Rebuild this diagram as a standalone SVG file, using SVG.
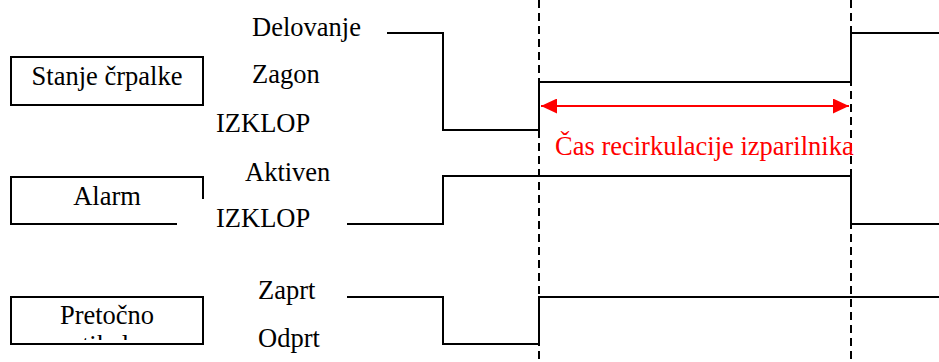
<svg xmlns="http://www.w3.org/2000/svg" width="939" height="362" viewBox="0 0 939 362">
<style>
text{font-family:"Times New Roman","Liberation Serif",Tinos,"Noto Serif","DejaVu Serif",FreeSerif,"Nimbus Roman",Times,serif;font-size:26.5px}
.t{fill:#000}
.box{fill:none;stroke:#000;stroke-width:2}
.sig{fill:none;stroke:#000;stroke-width:2}
.dash{stroke:#000;stroke-width:2;stroke-dasharray:8,5}
.red{stroke:#f00;stroke-width:2}
</style>
<defs>
<marker id="ah" viewBox="0 0 16 15" refX="16" refY="7.5" markerWidth="16" markerHeight="15" markerUnits="userSpaceOnUse" orient="auto-start-reverse">
<path d="M0,0 L16,7.5 L0,15 Z" fill="#f00"/>
</marker>
<clipPath id="clipP"><rect x="11" y="297" width="192" height="43"/></clipPath>
</defs>
<g id="node-stanje">
<rect class="box" x="11" y="57" width="192" height="48"/>
<text class="t" x="107" y="85" text-anchor="middle">Stanje črpalke</text>
</g>
<g id="node-alarm">
<path class="box" d="M177,224 H11 V177 H203 V199"/>
<text class="t" x="107" y="205" text-anchor="middle">Alarm</text>
</g>
<g id="node-pretocno">
<rect class="box" x="11" y="297" width="192" height="47"/>
<text class="t" x="107" y="324" text-anchor="middle">Pretočno</text>
<text class="t" x="107" y="354" text-anchor="middle" clip-path="url(#clipP)">stikalo</text>
</g>
<g id="labels">
<text class="t" x="252" y="36">Delovanje</text>
<text class="t" x="252" y="83">Zagon</text>
<text class="t" x="216" y="132">IZKLOP</text>
<text class="t" x="245" y="181">Aktiven</text>
<text class="t" x="216" y="227">IZKLOP</text>
<text class="t" x="258" y="299">Zaprt</text>
<text class="t" x="258" y="347">Odprt</text>
</g>
<g id="connectors">
<line class="dash" x1="539" y1="0" x2="539" y2="362"/>
<line class="dash" x1="851" y1="0" x2="851" y2="362"/>
<path class="sig" d="M387,33 H443 V130 H539 V82 H851 V33 H939"/>
<path class="sig" d="M347,224 H443 V176 H851 V224 H939"/>
<path class="sig" d="M347,297 H443 V344 H539 V297 H939"/>
<line class="red" x1="541" y1="106" x2="849" y2="106" marker-start="url(#ah)" marker-end="url(#ah)"/>
<text x="555" y="155" fill="#f00">Čas recirkulacije izparilnika</text>
</g>
</svg>
